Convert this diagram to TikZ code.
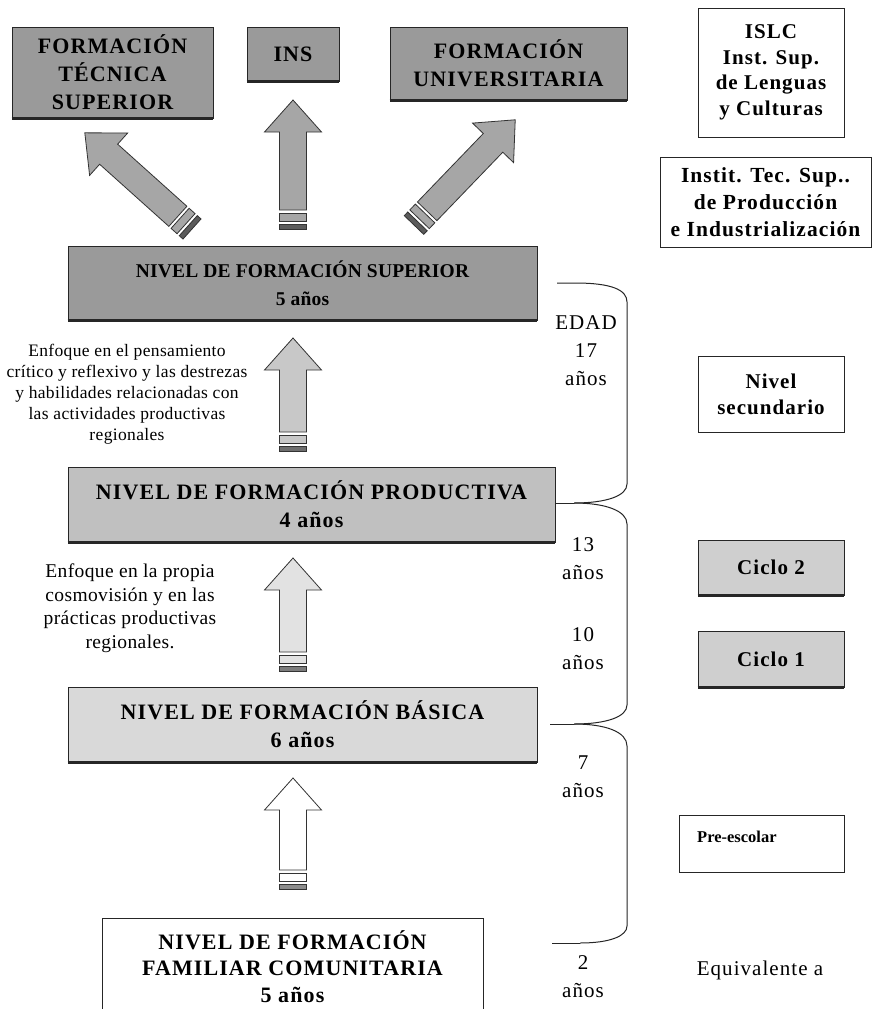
\documentclass[tikz,border=0pt]{standalone}
\usepackage{fontspec}
\setmainfont{Liberation Serif}
\newfontfamily\widefont[LetterSpace=5]{Liberation Serif}
\newfontfamily\midfont[LetterSpace=2]{Liberation Serif}
\newfontfamily\tightfont[LetterSpace=1]{Liberation Serif}
\definecolor{gdark}{HTML}{9A9A9A}
\definecolor{gmid}{HTML}{C0C0C0}
\definecolor{glight}{HTML}{D9D9D9}
\definecolor{gcyc}{HTML}{CFCFCF}
\definecolor{garr}{HTML}{A6A6A6}
\definecolor{garrb}{HTML}{C8C8C8}
\definecolor{garrc}{HTML}{E2E2E2}
\begin{document}
\begin{tikzpicture}[x=1pt,y=-1pt,
  box/.style={draw=black!85, line width=0.9pt, inner sep=0pt, align=center,
    font=\widefont\bfseries\fontsize{22}{28}\selectfont},
  wbox/.style={box, fill=white, font=\widefont\bfseries\fontsize{21}{25.5}\selectfont},
  bottomline/.style={draw=black!85, line width=2.6pt},
  lbl/.style={inner sep=0pt, align=center},
  age/.style={lbl, font=\widefont\fontsize{21}{28}\selectfont},
  brace/.style={draw=black!85, line width=1pt},
  arr/.style={draw=black!80, line width=0.8pt, line join=miter},
  pics/sarrow/.style 2 args={code={
    \path[arr, fill=#2] (-13.5,-19) -- (-13.5,-#1+32) -- (-28.5,-#1+32) -- (0,-#1)
      -- (28.5,-#1+32) -- (13.5,-#1+32) -- (13.5,-19) -- cycle;
    \path[arr, fill=#2] (-13.5,-8) rectangle (13.5,-16);
    \path[arr, fill=#2!55!black] (-13.5,0) rectangle (13.5,-5);
  }}
]
\clip (0,0) rectangle (872,1009);
\fill[white] (0,0) rectangle (872,1009);

% top boxes
\node[box, fill=gdark, minimum width=201pt, minimum height=91pt] (fts) at (112.5,72.5) {FORMACIÓN\\TÉCNICA\\SUPERIOR};
\node[box, fill=gdark, minimum width=92pt, minimum height=54pt] (ins) at (293,54) {INS};
\node[box, fill=gdark, minimum width=237pt, minimum height=73pt] (fu) at (508.5,63.5) {FORMACIÓN\\UNIVERSITARIA};

% levels
\node[box, fill=gdark, minimum width=469pt, minimum height=74pt,
  font=\tightfont\bfseries\fontsize{19.5}{28}\selectfont] (sup) at (302.5,283) {NIVEL DE FORMACIÓN SUPERIOR\\5 años};
\node[box, fill=gmid, minimum width=487pt, minimum height=75pt] (prod) at (311.5,504.5) {NIVEL DE FORMACIÓN PRODUCTIVA\\4 años};
\node[box, fill=glight, minimum width=469pt, minimum height=75pt] (bas) at (302.5,724.5) {NIVEL DE FORMACIÓN BÁSICA\\6 años};
\node[box, fill=white, minimum width=381pt, minimum height=97pt,
  font=\widefont\bfseries\fontsize{22}{26.5}\selectfont] (fam) at (292.5,966.5) {NIVEL DE FORMACIÓN\\FAMILIAR COMUNITARIA\\5 años};

% right column
\node[wbox, minimum width=146pt, minimum height=129pt] (islc) at (771,72.5) {ISLC\\Inst. Sup.\\de Lenguas\\y Culturas};
\node[wbox, minimum width=211pt, minimum height=90pt, font=\widefont\bfseries\fontsize{21.5}{27}\selectfont] (itsp) at (765.5,202) {Instit. Tec. Sup..\\de Producción\\e Industrialización};
\node[wbox, minimum width=146pt, minimum height=76pt, font=\widefont\bfseries\fontsize{21}{26}\selectfont] (sec) at (771,394) {Nivel\\secundario};
\node[box, fill=gcyc, minimum width=146pt, minimum height=55pt, font=\widefont\bfseries\fontsize{21}{26}\selectfont] (c2) at (771,567.5) {Ciclo 2};
\node[box, fill=gcyc, minimum width=146pt, minimum height=56pt, font=\widefont\bfseries\fontsize{21}{26}\selectfont] (c1) at (771,659) {Ciclo 1};
\node[wbox, minimum width=165pt, minimum height=57pt] (pre) at (761.5,843.5) {};
\node[lbl, anchor=west, font=\bfseries\fontsize{16.5}{18}\selectfont] (pret) at (697,837) {Pre-escolar};
\node[age] (equiv) at (760,970) {Equivalente a};

\foreach \n in {fts,ins,fu,sup,prod,bas,c2,c1}
  \draw[bottomline] (\n.south west) -- (\n.south east);

% block arrows
\pic[rotate=48.1] at (192,229) {sarrow={144}{garr}};
\pic at (293,229) {sarrow={129}{garr}};
\pic[rotate=-43.9] at (414,225) {sarrow={146}{garr}};
\pic at (293,451) {sarrow={113}{garrb}};
\pic at (293,671) {sarrow={113}{garrc}};
\pic at (293,889) {sarrow={111}{white}};

% explanatory texts
\node[lbl, font=\midfont\fontsize{17.5}{21}\selectfont] (enf1) at (127,394)
  {Enfoque en el pensamiento\\crítico y reflexivo y las destrezas\\y habilidades relacionadas con\\las actividades productivas\\regionales};
\node[lbl, font=\midfont\fontsize{19.5}{23.5}\selectfont] (enf2) at (130,608)
  {Enfoque en la propia\\cosmovisión y en las\\prácticas productivas\\regionales.};

% ages
\node[age] (a17) at (586,351) {EDAD\\17\\años};
\node[age] (a13) at (583,559) {13\\años};
\node[age] (a10) at (583,649) {10\\años};
\node[age] (a7) at (583,777) {7\\años};
\node[age] (a2) at (583,977) {2\\años};

% brackets
\coordinate (j1) at (574,503);
\coordinate (j2) at (574,724);
\coordinate (j3) at (580,943);
\draw[brace] (557,283) -- (575,283) .. controls (612,283) and (627,290) .. (627,302)
  -- (627,484) .. controls (627,496) and (606,503) .. (j1);
\draw[brace] (prod.east |- j1) -- (j1);
\draw[brace] (j1) .. controls (606,503) and (627,511) .. (627,524)
  -- (627,705) .. controls (627,717) and (606,724) .. (j2);
\draw[brace] (550,724) -- (j2);
\draw[brace] (j2) .. controls (606,724) and (627,732) .. (627,746)
  -- (627,926) .. controls (627,936) and (610,943) .. (j3);
\draw[brace] (552,943) -- (j3);
\end{tikzpicture}
\end{document}
